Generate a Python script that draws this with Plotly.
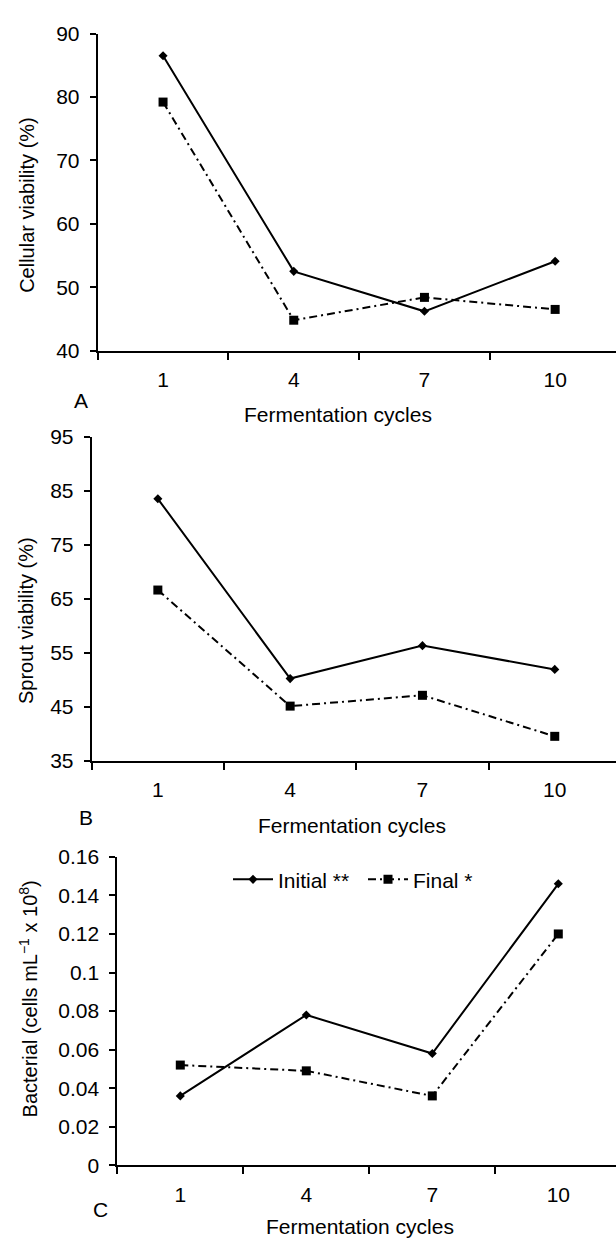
import plotly.graph_objects as go

W, H = 616, 1247

cycles = ["1", "4", "7", "10"]

# Panel A - cellular viability (%)
cell_initial = [86.5, 52.5, 46.2, 54.1]
cell_final = [79.2, 44.8, 48.4, 46.5]

# Panel B - sprout viability (%)
sprout_initial = [83.5, 50.2, 56.3, 51.9]
sprout_final = [66.6, 45.1, 47.1, 39.5]

# Panel C - bacterial count (cells mL-1 x 10^8)
bact_initial = [0.036, 0.078, 0.058, 0.146]
bact_final = [0.052, 0.049, 0.036, 0.120]

FONT = "Liberation Sans, Arial, sans-serif"
DASHDOT = "8px,4px,2px,4px"


def px_x(v):
    return v / W


def px_y(v):
    return 1 - v / H


fig = go.Figure()

panels = [
    ("", cell_initial, cell_final, False),
    ("2", sprout_initial, sprout_final, False),
    ("3", bact_initial, bact_final, True),
]

for suffix, ini, fin, legend in panels:
    fig.add_trace(go.Scatter(
        x=cycles, y=ini, name="Initial **", mode="lines+markers",
        line=dict(color="black", width=2),
        marker=dict(symbol="diamond", size=7, color="black"),
        xaxis="x" + suffix, yaxis="y" + suffix, showlegend=legend,
        cliponaxis=False
    ))
    fig.add_trace(go.Scatter(
        x=cycles, y=fin, name="Final *", mode="lines+markers",
        line=dict(color="black", width=2, dash=DASHDOT),
        marker=dict(symbol="square", size=9, color="black"),
        xaxis="x" + suffix, yaxis="y" + suffix, showlegend=legend,
        cliponaxis=False
    ))

# geometry in pixels: (y-axis x, tick spacing, plot top, plot bottom)
geom = {
    "": (97.7, 130.7, 22.0, 345.0),
    "2": (91.7, 132.3, 432.7, 762.7),
    "3": (117.3, 126.0, 860.7, 1175.0),
}
yranges = {"": ([40, 90], 10, 40), "2": ([35, 95], 10, 35), "3": ([0, 0.16], 0.02, 0)}

axis_common = dict(
    showline=True, linecolor="black", linewidth=2,
    ticks="outside", tickcolor="black", tickwidth=2, ticklen=7,
    showgrid=False, zeroline=False,
    tickfont=dict(family=FONT, size=21, color="black"),
)

layout_axes = {}
for suffix, (x0, step, top, bottom) in geom.items():
    layout_axes["xaxis" + suffix] = dict(
        axis_common,
        type="category", categoryorder="array", categoryarray=cycles,
        domain=[px_x(x0), 1],
        range=[-0.5, -0.5 + (W - x0) / step],
        tickson="boundaries", ticklabelstandoff=9,
        anchor="y" + suffix,
    )
    rng, dt, t0 = yranges[suffix]
    layout_axes["yaxis" + suffix] = dict(
        axis_common,
        domain=[px_y(bottom), px_y(top)],
        range=rng, dtick=dt, tick0=t0, ticklen=6,
        ticklabelstandoff=6,
        anchor="x" + suffix,
    )

fig.update_layout(**layout_axes)

annotations = []
labels = [
    ("Fermentation cycles", 338, 410, 0, 21),
    ("Fermentation cycles", 352, 829, 0, 21),
    ("Fermentation cycles", 360, 1237, 0, 21),
    ("A", 81, 396, 0, 21),
    ("B", 86, 821, 0, 21),
    ("C", 100, 1220, 0, 21),
    ("Cellular viability (%)", 27.5, 197, -90, 20),
    ("Sprout viability (%)", 25.5, 620, -90, 20),
    ("Bacterial (cells mL<sup>\u22121</sup> x 10<sup>8</sup>)", 28, 1006, -90, 20),
]
for text, x, y, angle, size in labels:
    annotations.append(dict(
        text=text, x=px_x(x), y=px_y(y), xref="paper", yref="paper",
        xanchor="center", yanchor="middle", showarrow=False, textangle=angle,
        font=dict(family=FONT, size=size, color="black"),
    ))

fig.update_layout(
    width=W, height=H,
    margin=dict(l=0, r=0, t=0, b=0),
    paper_bgcolor="white", plot_bgcolor="white",
    font=dict(family=FONT, size=21, color="black"),
    annotations=annotations,
    legend=dict(
        orientation="h", x=px_x(228), y=px_y(884),
        xanchor="left", yanchor="middle",
        font=dict(family=FONT, size=21, color="black"),
        bgcolor="rgba(0,0,0,0)", itemwidth=40,
        entrywidth=80, entrywidthmode="pixels",
    ),
)

fig.write_html(
    "out.html",
    config={"displayModeBar": False},
    post_script="document.body.style.margin='0';document.body.style.overflow='hidden';",
)
